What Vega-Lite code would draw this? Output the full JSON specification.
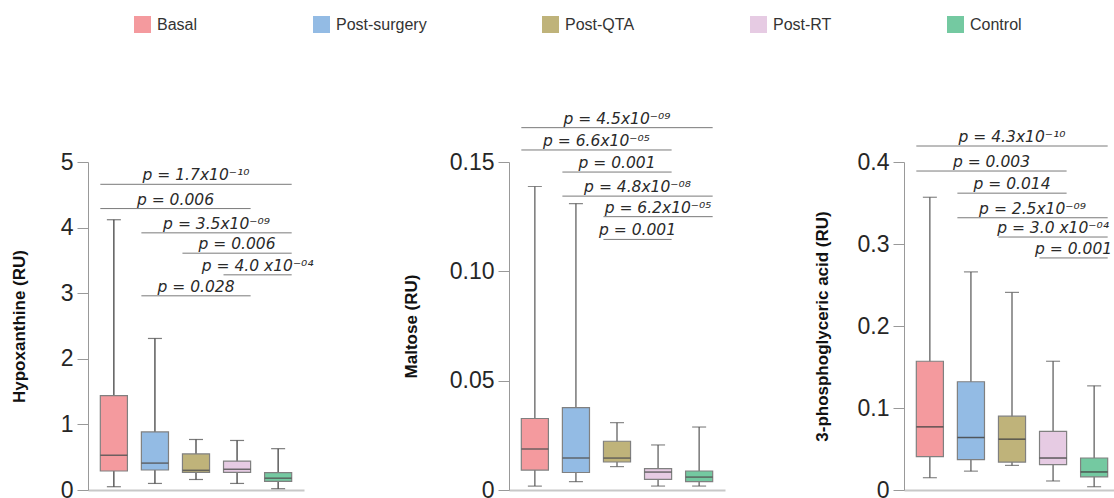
{
  "$schema": "https://vega.github.io/schema/vega-lite/v6.json",
  "padding": {"left": 10, "top": 16, "right": 0, "bottom": 0},
  "spacing": 88,
  "datasets": {
    "s1": [
      {"group": "Basal", "min": 0.05, "q1": 0.29, "median": 0.53, "q3": 1.44, "max": 4.12},
      {"group": "Post-surgery", "min": 0.10, "q1": 0.305, "median": 0.41, "q3": 0.885, "max": 2.31},
      {"group": "Post-QTA", "min": 0.16, "q1": 0.27, "median": 0.30, "q3": 0.55, "max": 0.77},
      {"group": "Post-RT", "min": 0.10, "q1": 0.27, "median": 0.316, "q3": 0.44, "max": 0.755},
      {"group": "Control", "min": 0.02, "q1": 0.13, "median": 0.18, "q3": 0.265, "max": 0.63}
    ],
    "s2": [
      {"group": "Basal", "min": 0.0018, "q1": 0.0091, "median": 0.0188, "q3": 0.0327, "max": 0.1388},
      {"group": "Post-surgery", "min": 0.0038, "q1": 0.008, "median": 0.0146, "q3": 0.0377, "max": 0.131},
      {"group": "Post-QTA", "min": 0.0107, "q1": 0.0128, "median": 0.0146, "q3": 0.0223, "max": 0.0308},
      {"group": "Post-RT", "min": 0.0018, "q1": 0.0049, "median": 0.0082, "q3": 0.0098, "max": 0.0206},
      {"group": "Control", "min": 0.0018, "q1": 0.0038, "median": 0.0059, "q3": 0.0087, "max": 0.0288}
    ],
    "s3": [
      {"group": "Basal", "min": 0.015, "q1": 0.0407, "median": 0.077, "q3": 0.157, "max": 0.357},
      {"group": "Post-surgery", "min": 0.023, "q1": 0.037, "median": 0.064, "q3": 0.132, "max": 0.266},
      {"group": "Post-QTA", "min": 0.030, "q1": 0.034, "median": 0.062, "q3": 0.090, "max": 0.241},
      {"group": "Post-RT", "min": 0.011, "q1": 0.031, "median": 0.039, "q3": 0.0716, "max": 0.157},
      {"group": "Control", "min": 0.004, "q1": 0.016, "median": 0.022, "q3": 0.039, "max": 0.127}
    ],
    "a1": [
      {"from": "Basal", "to": "Control", "y": 4.66, "label": "p = 1.7x10⁻¹⁰"},
      {"from": "Basal", "to": "Post-RT", "y": 4.29, "label": "p = 0.006"},
      {"from": "Post-surgery", "to": "Control", "y": 3.92, "label": "p = 3.5x10⁻⁰⁹"},
      {"from": "Post-QTA", "to": "Control", "y": 3.61, "label": "p = 0.006"},
      {"from": "Post-RT", "to": "Control", "y": 3.28, "label": "p = 4.0 x10⁻⁰⁴"},
      {"from": "Post-surgery", "to": "Post-RT", "y": 2.96, "label": "p = 0.028"}
    ],
    "a2": [
      {"from": "Basal", "to": "Control", "y": 0.1657, "label": "p = 4.5x10⁻⁰⁹"},
      {"from": "Basal", "to": "Post-RT", "y": 0.1555, "label": "p = 6.6x10⁻⁰⁵"},
      {"from": "Post-surgery", "to": "Post-RT", "y": 0.1454, "label": "p = 0.001"},
      {"from": "Post-surgery", "to": "Control", "y": 0.1344, "label": "p = 4.8x10⁻⁰⁸"},
      {"from": "Post-QTA", "to": "Control", "y": 0.125, "label": "p = 6.2x10⁻⁰⁵"},
      {"from": "Post-QTA", "to": "Post-RT", "y": 0.1146, "label": "p = 0.001"}
    ],
    "a3": [
      {"from": "Basal", "to": "Control", "y": 0.4195, "label": "p = 4.3x10⁻¹⁰"},
      {"from": "Basal", "to": "Post-RT", "y": 0.389, "label": "p = 0.003"},
      {"from": "Post-surgery", "to": "Post-RT", "y": 0.362, "label": "p = 0.014"},
      {"from": "Post-surgery", "to": "Control", "y": 0.332, "label": "p = 2.5x10⁻⁰⁹"},
      {"from": "Post-QTA", "to": "Control", "y": 0.3085, "label": "p = 3.0 x10⁻⁰⁴"},
      {"from": "Post-RT", "to": "Control", "y": 0.283, "label": "p = 0.001"}
    ]
  },
  "hconcat": [
    {
      "width": 216, "height": 328,
      "layer": [
        {
          "layer": [
            {"data": {"name": "s1"}, "mark": {"type": "rule", "color": "#333", "strokeWidth": 1.2},
             "encoding": {
               "x": {"field": "group", "type": "nominal", "scale": {"type": "band", "domain": ["Basal","Post-surgery","Post-QTA","Post-RT","Control"], "paddingInner": 0.34, "paddingOuter": 0.3}, "axis": {"title": null, "labels": false, "ticks": false, "domainColor": "#c8c8c8", "domainWidth": 2}},
               "y": {"field": "min", "type": "quantitative", "scale": {"domain": [0, 5], "nice": false}, "axis": {"title": "Hypoxanthine (RU)", "values": [0,1,2,3,4,5], "format": "d", "tickSize": 11, "labelPadding": 4, "titlePadding": 32}},
               "y2": {"field": "max"}}},
            {"data": {"name": "s1"}, "mark": {"type": "tick", "color": "#444", "size": 14, "thickness": 1.2},
             "encoding": {"x": {"field": "group", "type": "nominal"}, "y": {"field": "min", "type": "quantitative"}}},
            {"data": {"name": "s1"}, "mark": {"type": "tick", "color": "#444", "size": 14, "thickness": 1.2},
             "encoding": {"x": {"field": "group", "type": "nominal"}, "y": {"field": "max", "type": "quantitative"}}},
            {"data": {"name": "s1"}, "mark": {"type": "bar", "stroke": "#808080", "strokeWidth": 1.2},
             "encoding": {"x": {"field": "group", "type": "nominal"}, "y": {"field": "q1", "type": "quantitative"}, "y2": {"field": "q3"},
               "color": {"field": "group", "type": "nominal", "scale": {"domain": ["Basal","Post-surgery","Post-QTA","Post-RT","Control"], "range": ["#f49a9e","#93bbe4","#bfb37a","#e6cbe3","#74c9a1"]}, "legend": {"title": null}}}},
            {"data": {"name": "s1"}, "mark": {"type": "tick", "color": "#555", "size": 27, "thickness": 1.5, "opacity": 0.85},
             "encoding": {"x": {"field": "group", "type": "nominal"}, "y": {"field": "median", "type": "quantitative"}}},
            {"data": {"name": "a1"}, "mark": {"type": "rule", "color": "#7a7a7a", "strokeWidth": 1},
             "encoding": {"x": {"field": "from", "type": "nominal", "bandPosition": 0}, "x2": {"field": "to", "bandPosition": 1}, "y": {"field": "y", "type": "quantitative"}}}
          ]
        },
        {"data": {"name": "a1"},
         "transform": [{"calculate": "(indexof(['Basal','Post-surgery','Post-QTA','Post-RT','Control'], datum.from) + indexof(['Basal','Post-surgery','Post-QTA','Post-RT','Control'], datum.to)) / 2", "as": "m"}],
         "mark": {"type": "text", "font": "DejaVu Sans", "fontStyle": "italic", "fontSize": 15.5, "color": "#2a2a2a", "baseline": "alphabetic", "dy": -4},
         "encoding": {"x": {"field": "m", "type": "quantitative", "scale": {"domain": [-0.63, 4.63], "nice": false, "zero": false}, "axis": null}, "y": {"field": "y", "type": "quantitative"}, "text": {"field": "label"}}}
      ],
      "resolve": {"scale": {"x": "independent"}}
    },
    {
      "width": 216, "height": 328,
      "layer": [
        {
          "layer": [
            {"data": {"name": "s2"}, "mark": {"type": "rule", "color": "#555", "strokeWidth": 1.2},
             "encoding": {
               "x": {"field": "group", "type": "nominal", "scale": {"type": "band", "domain": ["Basal","Post-surgery","Post-QTA","Post-RT","Control"], "paddingInner": 0.34, "paddingOuter": 0.3}, "axis": {"title": null, "labels": false, "ticks": false, "domainColor": "#c8c8c8", "domainWidth": 2}},
               "y": {"field": "min", "type": "quantitative", "scale": {"domain": [0, 0.15], "nice": false}, "axis": {"title": "Maltose (RU)", "values": [0,0.05,0.1,0.15], "labelExpr": "datum.value == 0 ? '0' : format(datum.value, '.2f')", "tickSize": 11, "labelPadding": 4, "titlePadding": 29}},
               "y2": {"field": "max"}}},
            {"data": {"name": "s2"}, "mark": {"type": "tick", "color": "#555", "size": 14, "thickness": 1.2},
             "encoding": {"x": {"field": "group", "type": "nominal"}, "y": {"field": "min", "type": "quantitative"}}},
            {"data": {"name": "s2"}, "mark": {"type": "tick", "color": "#555", "size": 14, "thickness": 1.2},
             "encoding": {"x": {"field": "group", "type": "nominal"}, "y": {"field": "max", "type": "quantitative"}}},
            {"data": {"name": "s2"}, "mark": {"type": "bar", "stroke": "#808080", "strokeWidth": 1.2},
             "encoding": {"x": {"field": "group", "type": "nominal"}, "y": {"field": "q1", "type": "quantitative"}, "y2": {"field": "q3"},
               "color": {"field": "group", "type": "nominal"}}},
            {"data": {"name": "s2"}, "mark": {"type": "tick", "color": "#555", "size": 27, "thickness": 1.5, "opacity": 0.85},
             "encoding": {"x": {"field": "group", "type": "nominal"}, "y": {"field": "median", "type": "quantitative"}}},
            {"data": {"name": "a2"}, "mark": {"type": "rule", "color": "#7a7a7a", "strokeWidth": 1},
             "encoding": {"x": {"field": "from", "type": "nominal", "bandPosition": 0}, "x2": {"field": "to", "bandPosition": 1}, "y": {"field": "y", "type": "quantitative"}}}
          ]
        },
        {"data": {"name": "a2"},
         "transform": [{"calculate": "(indexof(['Basal','Post-surgery','Post-QTA','Post-RT','Control'], datum.from) + indexof(['Basal','Post-surgery','Post-QTA','Post-RT','Control'], datum.to)) / 2", "as": "m"}],
         "mark": {"type": "text", "font": "DejaVu Sans", "fontStyle": "italic", "fontSize": 15.5, "color": "#2a2a2a", "baseline": "alphabetic", "dy": -4},
         "encoding": {"x": {"field": "m", "type": "quantitative", "scale": {"domain": [-0.63, 4.63], "nice": false, "zero": false}, "axis": null}, "y": {"field": "y", "type": "quantitative"}, "text": {"field": "label"}}}
      ],
      "resolve": {"scale": {"x": "independent"}}
    },
    {
      "width": 216, "height": 328,
      "layer": [
        {
          "layer": [
            {"data": {"name": "s3"}, "mark": {"type": "rule", "color": "#555", "strokeWidth": 1.2},
             "encoding": {
               "x": {"field": "group", "type": "nominal", "scale": {"type": "band", "domain": ["Basal","Post-surgery","Post-QTA","Post-RT","Control"], "paddingInner": 0.34, "paddingOuter": 0.3}, "axis": {"title": null, "labels": false, "ticks": false, "domainColor": "#c8c8c8", "domainWidth": 2}},
               "y": {"field": "min", "type": "quantitative", "scale": {"domain": [0, 0.4], "nice": false}, "axis": {"title": "3-phosphoglyceric acid (RU)", "values": [0,0.1,0.2,0.3,0.4], "labelExpr": "datum.value == 0 ? '0' : format(datum.value, '.1f')", "tickSize": 11, "labelPadding": 4, "titlePadding": 26}},
               "y2": {"field": "max"}}},
            {"data": {"name": "s3"}, "mark": {"type": "tick", "color": "#555", "size": 14, "thickness": 1.2},
             "encoding": {"x": {"field": "group", "type": "nominal"}, "y": {"field": "min", "type": "quantitative"}}},
            {"data": {"name": "s3"}, "mark": {"type": "tick", "color": "#555", "size": 14, "thickness": 1.2},
             "encoding": {"x": {"field": "group", "type": "nominal"}, "y": {"field": "max", "type": "quantitative"}}},
            {"data": {"name": "s3"}, "mark": {"type": "bar", "stroke": "#808080", "strokeWidth": 1.2},
             "encoding": {"x": {"field": "group", "type": "nominal"}, "y": {"field": "q1", "type": "quantitative"}, "y2": {"field": "q3"},
               "color": {"field": "group", "type": "nominal"}}},
            {"data": {"name": "s3"}, "mark": {"type": "tick", "color": "#444", "size": 27, "thickness": 1.5, "opacity": 0.85},
             "encoding": {"x": {"field": "group", "type": "nominal"}, "y": {"field": "median", "type": "quantitative"}}},
            {"data": {"name": "a3"}, "mark": {"type": "rule", "color": "#7a7a7a", "strokeWidth": 1},
             "encoding": {"x": {"field": "from", "type": "nominal", "bandPosition": 0}, "x2": {"field": "to", "bandPosition": 1}, "y": {"field": "y", "type": "quantitative"}}}
          ]
        },
        {"data": {"name": "a3"},
         "transform": [{"calculate": "(indexof(['Basal','Post-surgery','Post-QTA','Post-RT','Control'], datum.from) + indexof(['Basal','Post-surgery','Post-QTA','Post-RT','Control'], datum.to)) / 2", "as": "m"}],
         "mark": {"type": "text", "font": "DejaVu Sans", "fontStyle": "italic", "fontSize": 15.5, "color": "#2a2a2a", "baseline": "alphabetic", "dy": -4},
         "encoding": {"x": {"field": "m", "type": "quantitative", "scale": {"domain": [-0.63, 4.63], "nice": false, "zero": false}, "axis": null}, "y": {"field": "y", "type": "quantitative"}, "text": {"field": "label"}}}
      ],
      "resolve": {"scale": {"x": "independent"}}
    }
  ],
  "config": {
    "view": {"stroke": null},
    "axis": {"labelFont": "Liberation Sans", "labelFontSize": 23, "labelColor": "#262626", "titleFont": "Liberation Sans", "titleFontSize": 17, "titleFontWeight": "bold", "titleColor": "#111", "domainColor": "#999", "tickColor": "#999", "grid": false},
    "legend": {"orient": "none", "legendX": 46, "legendY": -146, "direction": "horizontal", "symbolType": "square", "symbolSize": 289, "symbolStrokeWidth": 0, "symbolOpacity": 1, "labelFont": "Liberation Sans", "labelFontSize": 16, "labelColor": "#333", "labelOffset": 6, "columnPadding": 115}
  }
}
